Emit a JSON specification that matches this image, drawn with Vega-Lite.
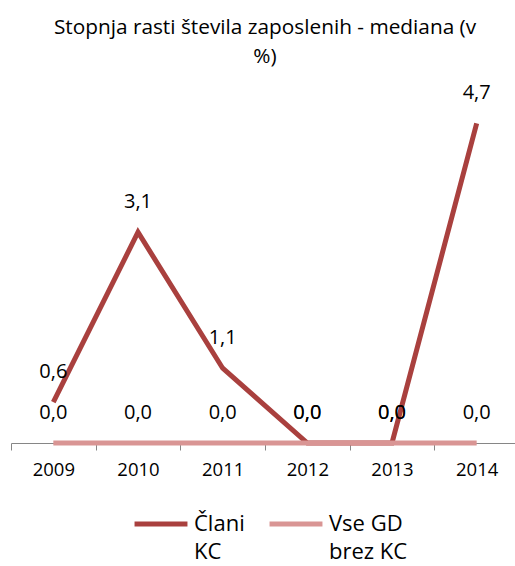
{
  "$schema": "https://vega.github.io/schema/vega-lite/v6.json",
  "width": 508,
  "height": 340,
  "autosize": {"type": "none"},
  "padding": {"left": 11, "top": 103, "right": 0, "bottom": 123},
  "background": "white",
  "config": {
    "view": {"stroke": null},
    "font": "Open Sans",
    "locale": {"number": {"decimal": ",", "thousands": ".", "grouping": [3], "currency": ["", " €"]}}
  },
  "title": {
    "text": ["Stopnja rasti števila zaposlenih - mediana (v", "%)"],
    "fontSize": 20.8,
    "fontWeight": "normal",
    "font": "Open Sans",
    "color": "#000000",
    "lineHeight": 29,
    "anchor": "middle",
    "offset": 16
  },
  "data": {
    "values": [
      {"year": "2009", "series": "Člani KC", "value": 0.6},
      {"year": "2010", "series": "Člani KC", "value": 3.1},
      {"year": "2011", "series": "Člani KC", "value": 1.1},
      {"year": "2012", "series": "Člani KC", "value": 0.0},
      {"year": "2013", "series": "Člani KC", "value": 0.0},
      {"year": "2014", "series": "Člani KC", "value": 4.7},
      {"year": "2009", "series": "Vse GD brez KC", "value": 0.0},
      {"year": "2010", "series": "Vse GD brez KC", "value": 0.0},
      {"year": "2011", "series": "Vse GD brez KC", "value": 0.0},
      {"year": "2012", "series": "Vse GD brez KC", "value": 0.0},
      {"year": "2013", "series": "Vse GD brez KC", "value": 0.0},
      {"year": "2014", "series": "Vse GD brez KC", "value": 0.0}
    ]
  },
  "encoding": {
    "x": {
      "field": "year",
      "type": "ordinal",
      "bandPosition": 0.5,
      "scale": {"type": "band", "paddingInner": 0, "paddingOuter": 0},
      "axis": {
        "title": null,
        "labelAngle": 0,
        "labelFontSize": 18.5,
        "labelColor": "#000000",
        "labelPadding": 10,
        "domainColor": "#868686",
        "tickColor": "#868686",
        "tickSize": 7,
        "tickBand": "extent",
        "grid": false
      }
    },
    "y": {
      "field": "value",
      "type": "quantitative",
      "scale": {"domain": [0, 5], "nice": false},
      "axis": null
    }
  },
  "layer": [
    {
      "mark": {"type": "line", "strokeWidth": 5, "strokeCap": "butt"},
      "encoding": {
        "color": {
          "field": "series",
          "type": "nominal",
          "scale": {"domain": ["Člani KC", "Vse GD brez KC"], "range": ["#A9403E", "#D99594"]},
          "legend": {
            "title": null,
            "orient": "none",
            "direction": "horizontal",
            "legendX": 121,
            "legendY": 392,
            "symbolType": "stroke",
            "symbolSize": 2800,
            "symbolStrokeWidth": 5,
            "labelFontSize": 22,
            "labelColor": "#000000",
            "labelLimit": 200,
            "labelOffset": 4,
            "columnPadding": 14,
            "labelExpr": "datum.label == 'Člani KC' ? ['Člani', 'KC'] : ['Vse GD', 'brez KC']",
            "encoding": {"labels": {"lineHeight": {"value": 28}}}
          }
        }
      }
    },
    {
      "mark": {"type": "text", "dy": -30, "fontSize": 20, "color": "#000000"},
      "encoding": {
        "text": {"field": "value", "type": "quantitative", "format": ".1f"}
      }
    }
  ]
}
